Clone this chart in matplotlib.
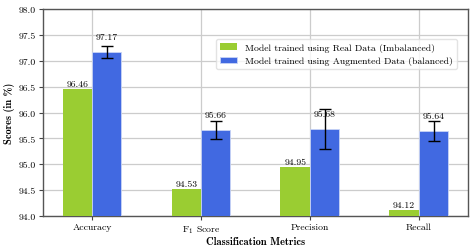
import matplotlib
matplotlib.use("Agg")
import matplotlib.pyplot as plt
import numpy as np

categories = ["Accuracy", "F$_1$ Score", "Precision", "Recall"]
real_vals = [96.46, 94.53, 94.95, 94.12]
aug_vals = [97.17, 95.66, 95.68, 95.64]
aug_err = [0.11, 0.17, 0.38, 0.20]
series_names = ["Model trained using Real Data (Imbalanced)",
                "Model trained using Augmented Data (balanced)"]
yticks = [94.0, 94.5, 95.0, 95.5, 96.0, 96.5, 97.0, 97.5, 98.0]

plt.rcParams['font.family'] = ['cmr10', 'DejaVu Serif']
plt.rcParams['mathtext.fontset'] = 'cm'
plt.rcParams['axes.unicode_minus'] = False
plt.rcParams['axes.formatter.use_mathtext'] = True

fig = plt.figure(figsize=(4.75, 2.51), dpi=100)
ax = fig.add_axes([0.0905, 0.1355, 0.8945, 0.8245])

x = np.arange(len(categories))
w = 0.27
ax.bar(x - w/2, real_vals, w, color='#9ACD32', label=series_names[0], zorder=3)
ax.bar(x + w/2, aug_vals, w, color='#4169E1', edgecolor='#c8d4f5', linewidth=0.6,
       label=series_names[1], zorder=3)
ax.errorbar(x + w/2, aug_vals, yerr=aug_err, fmt='none', ecolor='black',
            elinewidth=1.0, capsize=4, capthick=1.0, zorder=4)

for xi, v in zip(x - w/2, real_vals):
    ax.text(xi, v + 0.02, f"{v:.2f}", ha='center', va='bottom', fontsize=7, zorder=5)
for xi, v in zip(x + w/2, aug_vals):
    ax.text(xi, v + 0.22, f"{v:.2f}", ha='center', va='bottom', fontsize=7, zorder=5)

ax.set_ylim(94.0, 98.0)
ax.set_xlim(-0.45, 3.45)
ax.set_yticks(yticks)
ax.set_yticklabels([f"{t:.1f}" for t in yticks], fontsize=7)
ax.set_xticks(x)
ax.set_xticklabels(categories, fontsize=7)
ax.tick_params(axis='both', length=3, width=0.8, color='#444444', pad=2)

ax.grid(True, color='#cccccc', linewidth=0.9, zorder=0)
ax.set_axisbelow(True)
for s in ax.spines.values():
    s.set_color('#555555')
    s.set_linewidth(1.0)

ax.set_xlabel("Classification Metrics", fontsize=7.5, fontfamily=['cmb10', 'DejaVu Serif'], labelpad=1)
ax.set_ylabel("Scores (in %)", fontsize=7.5, fontfamily=['cmb10', 'DejaVu Serif'], labelpad=3)

leg = ax.legend(loc='upper right', bbox_to_anchor=(0.985, 0.88), fontsize=7,
                frameon=True, fancybox=True, framealpha=0.8, edgecolor='#dddddd',
                handlelength=1.8, handleheight=0.7)

fig.savefig("out.png", dpi=100)
